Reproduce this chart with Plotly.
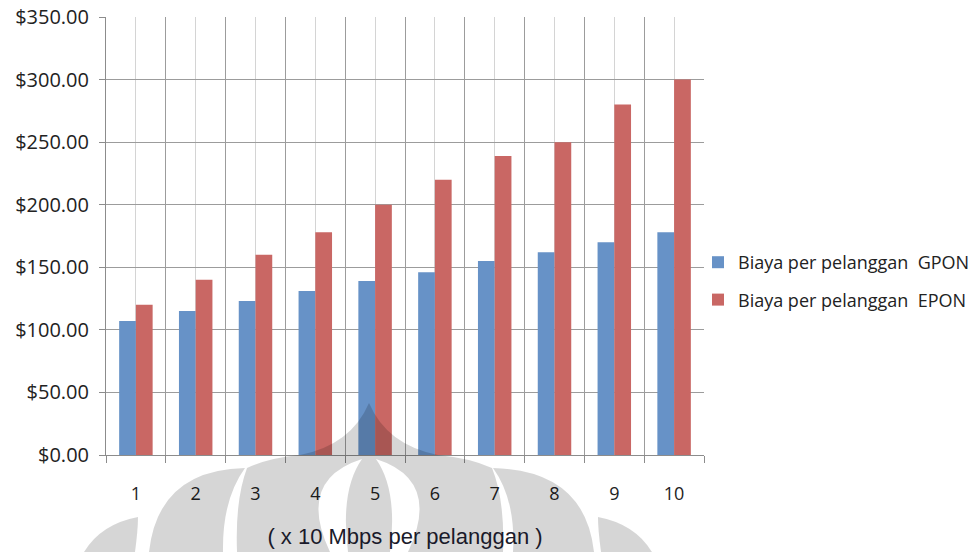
import plotly.graph_objects as go

categories = ["1", "2", "3", "4", "5", "6", "7", "8", "9", "10"]
gpon = [107, 115, 123, 131, 139, 146, 155, 162, 170, 178]
epon = [120, 140, 160, 178, 200, 220, 239, 250, 280, 300]
y_ticks = [0, 50, 100, 150, 200, 250, 300, 350]
y_tick_text = ["$%.2f" % v for v in y_ticks]
series_names = ["Biaya per pelanggan\u00a0 GPON", "Biaya per pelanggan\u00a0 EPON"]

xpos = list(range(1, len(categories) + 1))
boundaries = [i + 0.5 for i in range(0, len(categories) + 1)]

fig = go.Figure()
fig.add_trace(go.Bar(x=xpos, y=gpon, name=series_names[0], marker_color="#6792C7",
                     marker_line_width=0, legendgroup="g"))
fig.add_trace(go.Bar(x=xpos, y=epon, name=series_names[1], marker_color="#C96764",
                     marker_line_width=0, legendgroup="e"))

# --- background watermark (decorative logo), drawn in page pixels ---
PL, PR, PT, PB = 106, 704, 17, 455


def P(x, y):
    return "%.4f,%.4f" % ((x - PL) / (PR - PL), (PB - y) / (PB - PT))


def path(*cmds):
    out = []
    for c in cmds:
        if isinstance(c, str):
            out.append(c)
        else:
            out.append(P(*c))
    return " ".join(out)


cx = 369
mass = path("M", (cx, 403), "Q", (cx + 18, 445), (438, 455), "Q", (470, 458), (492, 468),
            "Q", (505, 500), (503, 552), "L", (237, 552),
            "Q", (235, 500), (247, 468), "Q", (268, 458), (300, 455),
            "Q", (cx - 18, 445), (cx, 403), "Z",
            "M", (362, 459), "Q", (296, 480), (330, 552), "L", (348, 552),
            "Q", (340, 490), (362, 459), "Z",
            "M", (376, 459), "Q", (442, 480), (408, 552), "L", (390, 552),
            "Q", (398, 490), (376, 459), "Z")
right_petal = path("M", (493, 468), "Q", (585, 470), (594, 552), "L", (513, 552),
                   "Q", (516, 500), (493, 468), "Z")
left_petal = path("M", (245, 468), "Q", (158, 470), (149, 552), "L", (223, 552),
                  "Q", (222, 500), (245, 468), "Z")
far_right = path("M", (598, 517), "Q", (635, 524), (652, 552), "L", (601, 552),
                 "Q", (598, 530), (598, 517), "Z")
far_left = path("M", (138, 517), "Q", (101, 524), (84, 552), "L", (135, 552),
                "Q", (138, 530), (138, 517), "Z")
for p in [mass, right_petal, left_petal, far_right, far_left]:
    fig.add_shape(type="path", path=p, xref="paper", yref="paper",
                  fillcolor="rgba(0,0,0,0.16)", fillrule="evenodd",
                  line=dict(width=0), layer="above")

fig.update_layout(
    width=978, height=552,
    margin=dict(l=PL, r=978 - PR, t=PT, b=552 - PB, autoexpand=False),
    paper_bgcolor="white", plot_bgcolor="white",
    barmode="group", bargap=0.44, bargroupgap=0.0,
    font=dict(family="Open Sans", color="#222222", size=18),
    legend=dict(xref="container", yref="container", x=698 / 978, y=1 - 244 / 552,
                xanchor="left", yanchor="top", traceorder="grouped",
                tracegroupgap=11, font=dict(size=18, color="#222222"),
                itemwidth=30, bgcolor="rgba(0,0,0,0)"),
    showlegend=True,
)
fig.update_xaxes(
    range=[0.5, 10.5], tickmode="array", tickvals=xpos, ticktext=categories,
    ticks="", showgrid=True, gridcolor="#D4D4D4", gridwidth=1,
    showline=True, linecolor="#8C8C8C", linewidth=1, automargin=False,
    ticklabelstandoff=22, tickfont=dict(size=18, color="#222222"),
    minor=dict(tickvals=boundaries, ticks="outside", ticklen=7, tickcolor="#8C8C8C",
               showgrid=True, gridcolor="#9C9C9C", gridwidth=1),
    title=dict(text="( x 10 Mbps per pelanggan )",
               font=dict(family="Liberation Sans, Arial", size=22, color="#1a1a2a"),
               standoff=25),
    zeroline=False,
)
fig.update_yaxes(
    range=[0, 350], tickmode="array", tickvals=y_ticks, ticktext=y_tick_text,
    ticks="outside", ticklen=6, tickcolor="#8C8C8C",
    showgrid=True, gridcolor="#9C9C9C", gridwidth=1,
    showline=True, linecolor="#8C8C8C", linewidth=1, automargin=False,
    ticklabelstandoff=6, tickfont=dict(size=20, color="#222222"),
    zeroline=False,
)

fig.write_html("out.html", config={"displayModeBar": False},
               post_script="document.body.style.margin='0px';")
